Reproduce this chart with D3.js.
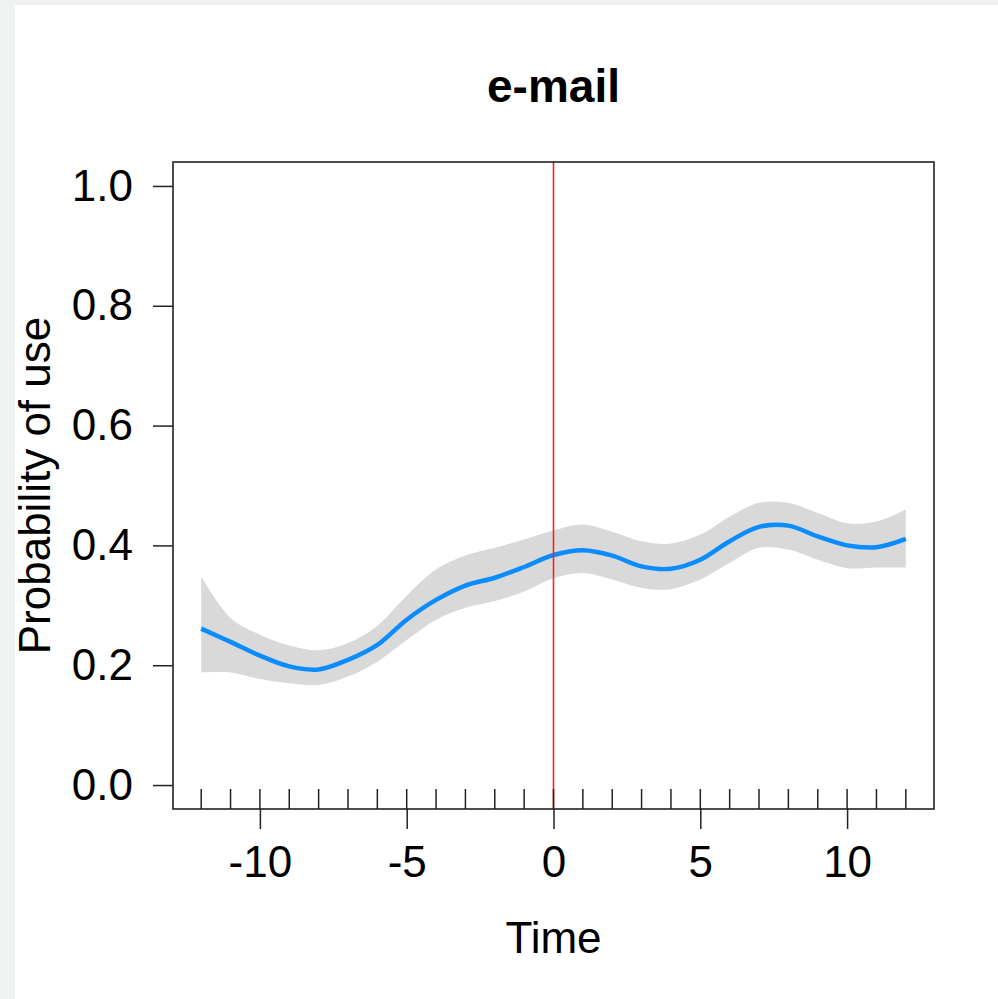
<!DOCTYPE html>
<html>
<head>
<meta charset="utf-8">
<script src="https://cdn.jsdelivr.net/npm/d3@7"></script>
<style>
  body { margin: 0; background: #f0f2f1; }
  text { font-family: "Liberation Sans", Arial, sans-serif; fill: #000; }
</style>
</head>
<body>
<div class="chart"></div>
<script>
const width = 998;
const height = 999;

// time points (rug marks at each one)
const time = [-12, -11, -10, -9, -8, -7, -6, -5, -4, -3, -2, -1, 0, 1, 2, 3, 4, 5, 6, 7, 8, 9, 10, 11, 12];
// fitted probability and its band
const fit   = [0.261, 0.239, 0.216, 0.198, 0.193, 0.209, 0.234, 0.276, 0.309, 0.333, 0.346, 0.364, 0.384, 0.392, 0.383, 0.365, 0.361, 0.376, 0.407, 0.431, 0.433, 0.415, 0.400, 0.397, 0.411];
const upper = [0.348, 0.279, 0.251, 0.233, 0.225, 0.237, 0.266, 0.316, 0.360, 0.383, 0.396, 0.410, 0.425, 0.435, 0.423, 0.407, 0.403, 0.418, 0.448, 0.471, 0.471, 0.454, 0.437, 0.440, 0.460];
const lower = [0.188, 0.188, 0.177, 0.170, 0.167, 0.181, 0.206, 0.242, 0.276, 0.296, 0.307, 0.323, 0.345, 0.354, 0.343, 0.329, 0.327, 0.343, 0.371, 0.396, 0.393, 0.376, 0.362, 0.363, 0.363];

const xTicks = [-10, -5, 0, 5, 10];
const yTicks = [0, 0.2, 0.4, 0.6, 0.8, 1.0];
const eventTime = 0;

const box = { left: 173, right: 934, top: 162, bottom: 809 };

var svg = d3.select(".chart").append("svg")
	.attr("width", width)
	.attr("height", height);

// page area
svg.append("rect")
	.attr("x", 15).attr("y", 5)
	.attr("width", width - 15).attr("height", height - 5)
	.attr("fill", "#fff");

// R style: data range padded by 4%
var x = d3.scaleLinear().domain([-12.96, 12.96]).range([box.left, box.right]);
var y = d3.scaleLinear().domain([-0.04, 1.04]).range([box.bottom, box.top]);

var rows = time.map((t, i) => ({ t: t, fit: fit[i], lo: lower[i], hi: upper[i] }));

var curve = d3.curveCatmullRom.alpha(0.5);

svg.append("path")
	.datum(rows)
	.attr("fill", "#d9d9d9")
	.attr("d", d3.area()
		.x(d => x(d.t))
		.y0(d => y(d.lo))
		.y1(d => y(d.hi))
		.curve(curve));

svg.append("path")
	.datum(rows)
	.attr("fill", "none")
	.attr("stroke", "#0a8cff")
	.attr("stroke-width", 4.5)
	.attr("d", d3.line()
		.x(d => x(d.t))
		.y(d => y(d.fit))
		.curve(curve));

// event line
svg.append("line")
	.attr("x1", x(eventTime)).attr("x2", x(eventTime))
	.attr("y1", box.top).attr("y2", box.bottom)
	.attr("stroke", "#ff2020")
	.attr("stroke-width", 1.6);

// x axis: major ticks outside (plain hyphen for negatives, like R)
var xAxis = svg.append("g")
	.attr("transform", `translate(0,${box.bottom})`)
	.call(d3.axisBottom(x).tickValues(xTicks).tickSize(20).tickPadding(17).tickFormat(d => String(d)));

// rug: inside ticks at every time point
svg.append("g")
	.selectAll("line")
	.data(time)
	.enter().append("line")
	.attr("x1", d => x(d)).attr("x2", d => x(d))
	.attr("y1", box.bottom).attr("y2", box.bottom - 20)
	.attr("stroke", "#222")
	.attr("stroke-width", 1.5);

var yAxis = svg.append("g")
	.attr("transform", `translate(${box.left},0)`)
	.call(d3.axisLeft(y).tickValues(yTicks).tickSize(20).tickPadding(20).tickFormat(d3.format(".1f")));

[xAxis, yAxis].forEach(a => {
	a.select(".domain").remove();
	a.selectAll("line").attr("stroke", "#222").attr("stroke-width", 1.5);
	a.selectAll("text").style("font-size", "44px").attr("fill", "#000");
});

// plot box
svg.append("rect")
	.attr("x", box.left).attr("y", box.top)
	.attr("width", box.right - box.left).attr("height", box.bottom - box.top)
	.attr("fill", "none")
	.attr("stroke", "#222")
	.attr("stroke-width", 1.6);

var midX = (box.left + box.right) / 2;
var midY = (box.top + box.bottom) / 2;

svg.append("text")
	.attr("x", midX).attr("y", 102)
	.attr("text-anchor", "middle")
	.style("font-size", "46px")
	.style("font-weight", "bold")
	.text("e-mail");

svg.append("text")
	.attr("x", midX).attr("y", 953)
	.attr("text-anchor", "middle")
	.style("font-size", "44px")
	.text("Time");

svg.append("text")
	.attr("transform", `translate(50,${midY}) rotate(-90)`)
	.attr("text-anchor", "middle")
	.style("font-size", "44px")
	.text("Probability of use");
</script>
</body>
</html>
